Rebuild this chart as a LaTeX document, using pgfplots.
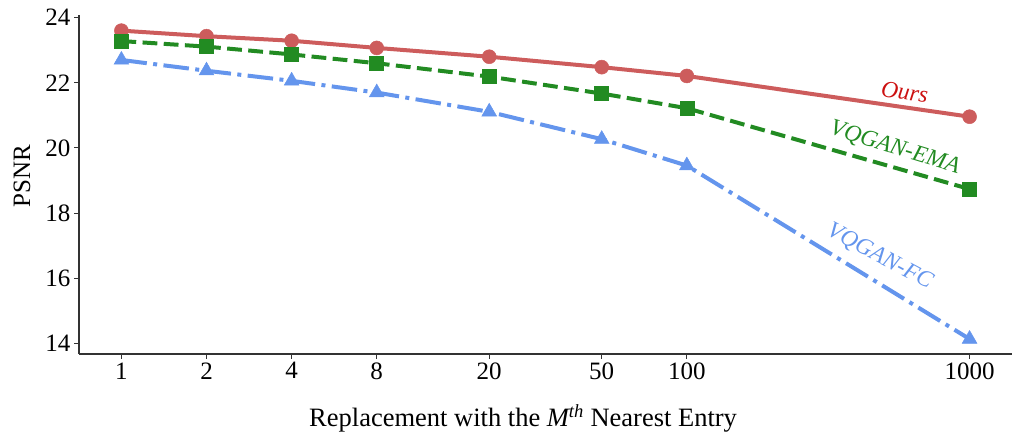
\documentclass[border=0pt]{standalone}
\usepackage{pgfplots}
\pgfplotsset{compat=1.18}
\usepackage{fontspec}
\setmainfont{Liberation Serif}
\definecolor{cred}{HTML}{CD5C5C}
\definecolor{cgreen}{HTML}{228B22}
\definecolor{cblue}{HTML}{6495ED}
\definecolor{tred}{HTML}{CC1010}
\definecolor{spine}{HTML}{333333}
\begin{document}
\begin{tikzpicture}
\begin{axis}[
  scale only axis,
  width=933pt, height=339pt,
  xmode=log,
  xmin=0.708, xmax=1413,
  ymin=13.68, ymax=24.08,
  axis lines*=left,
  axis line style={spine, line width=1.3pt},
  xtick={1,2,4,8,20,50,100,1000},
  xticklabels={1,2,4,8,20,50,100,1000},
  ytick={14,16,18,20,22,24},
  log ticks with fixed point,
  tick align=outside,
  major tick length=5pt,
  tick style={spine, line width=1pt},
  xminorticks=false,
  tick label style={font=\fontsize{25}{30}\selectfont},
  /pgf/number format/assume math mode=true,
  xlabel={Replacement with the \textit{M\textsuperscript{th}} Nearest Entry},
  ylabel={PSNR},
  every axis x label/.style={at={(rel axis cs:0.476,0)}, anchor=center, yshift=-64pt, font=\fontsize{26.5}{31}\selectfont},
  every axis y label/.style={at={(rel axis cs:0,0.525)}, xshift=-57pt, rotate=90, anchor=center, font=\fontsize{25}{30}\selectfont},
  clip=false,
]
\addplot[cred, line width=4pt, mark=*, mark size=7pt, mark options={solid, fill=cred, draw=cred, line width=0.5pt}]
  coordinates {(1,23.60) (2,23.43) (4,23.29) (8,23.07) (20,22.80) (50,22.48) (100,22.21) (1000,20.96)};
\addplot[cgreen, line width=4pt, dash pattern=on 14.8pt off 6.4pt, mark=square*, mark size=7pt, mark options={solid, fill=cgreen, draw=cgreen, line width=0.5pt}]
  coordinates {(1,23.28) (2,23.11) (4,22.87) (8,22.60) (20,22.19) (50,21.67) (100,21.22) (1000,18.74)};
\addplot[cblue, line width=4pt, dash pattern=on 25.6pt off 6.4pt on 4pt off 6.4pt, mark=triangle*, mark size=8.5pt, mark options={solid, fill=cblue, draw=cblue, line width=0.5pt}]
  coordinates {(1,22.70) (2,22.37) (4,22.06) (8,21.70) (20,21.11) (50,20.27) (100,19.46) (1000,14.14)};
\node[tred, rotate=-8, font=\fontsize{23.5}{28}\selectfont\itshape] at (axis cs:590,21.72) {Ours};
\node[cgreen, rotate=-17, font=\fontsize{23.5}{28}\selectfont\itshape] at (axis cs:544,20.0) {VQGAN-EMA};
\node[cblue, rotate=-28, font=\fontsize{23.5}{28}\selectfont\itshape] at (axis cs:481,16.66) {VQGAN-FC};
\path[use as bounding box] ([xshift=-79pt,yshift=-85pt]rel axis cs:0,0) rectangle ([xshift=1pt,yshift=15pt]rel axis cs:1,1);
\end{axis}
\end{tikzpicture}
\end{document}
